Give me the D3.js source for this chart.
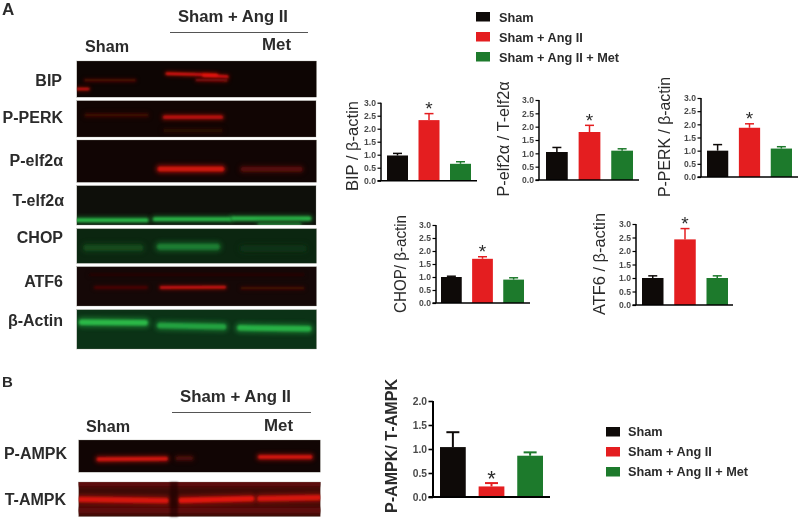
<!DOCTYPE html>
<html><head><meta charset="utf-8">
<script src="https://cdn.jsdelivr.net/npm/d3@7/dist/d3.min.js"></script>
<style>html,body{margin:0;padding:0;background:#fff}svg{display:block;filter:blur(.4px)}text{font-family:"Liberation Sans",Arial,sans-serif}</style>
</head><body><script>
// ---------- data ----------
const categories = ["Sham", "Sham + Ang II", "Sham + Ang II + Met"];
const bipMeans   = [0.97, 2.33, 0.65], bipTops   = [1.05, 2.58, 0.73];
const elfMeans   = [1.05, 1.80, 1.10], elfTops   = [1.22, 2.05, 1.17];
const perkMeans  = [1.00, 1.87, 1.08], perkTops  = [1.23, 2.02, 1.15];
const chopMeans  = [1.00, 1.70, 0.90], chopTops  = [1.03, 1.78, 0.97];
const atfMeans   = [1.00, 2.43, 1.00], atfTops   = [1.08, 2.83, 1.08];
const ampkMeans  = [1.04, 0.22, 0.86], ampkTops  = [1.35, 0.29, 0.93];
const ticks30 = [0, 0.5, 1, 1.5, 2, 2.5, 3];
const ticks20 = [0, 0.5, 1, 1.5, 2];
const blotLabels = ["BIP","P-PERK","P-elf2α","T-elf2α","CHOP","ATF6","β-Actin","P-AMPK","T-AMPK"];
// densitometry bands in gel units: x0, y0, x1, y1, relative intensity
const bipBands  = [[25,58,175,58,.3],[2,84,35,84,.9],[270,38,420,42,1],[380,44,452,47,1],[360,57,450,58,.55]];
const perkBands = [[30,44,210,44,.2],[265,50,435,50,.8],[265,90,435,90,.1]];
const pElfBands = [[250,87,435,87,.85],[500,88,670,88,.3]];
const tElfBands = [[2,104,210,104,.85],[235,101,460,101,.85],[470,99,700,99,.85],[550,117,670,117,.5]];
const chopBands = [[30,58,190,58,.2],[250,55,420,55,.5],[500,60,680,60,.07]];
const atfBands  = [[55,63,210,63,.3],[252,63,445,62,1],[495,65,680,65,.25],[40,25,680,25,.08]];
const actBands  = [[15,38,205,40,.85],[250,48,440,52,.7],[490,55,695,58,.8]];
const pAmpkBands= [[60,58,260,56,.85],[295,55,335,55,.25],[540,51,690,51,.85]];
const tAmpkBands= [[0,5,720,5,.2],[0,85,720,85,.2],[5,52,260,56,.85],[305,55,515,50,.9],[540,50,715,47,.85]];

// ---------- layout ----------
const W = 800, H = 519;
const ink = "#2b2b2b", tickInk = "#4a4a4a";
const barColors = ["#0e0a08", "#e41e20", "#1d7a2c"];
const svg = d3.select("body").append("svg").attr("width", W).attr("height", H).attr("viewBox", `0 0 ${W} ${H}`);
const defs = svg.append("defs");
[["b1",1],["b2",2.2]].forEach(([id,s]) => defs.append("filter").attr("id",id)
  .attr("filterUnits","userSpaceOnUse").attr("x",0).attr("y",0).attr("width",W).attr("height",H)
  .append("feGaussianBlur").attr("stdDeviation",s));
const txt = (t,x,y,size,opt={}) => svg.append("text").attr("x",x).attr("y",y)
  .attr("font-size",size).attr("font-weight",opt.weight||"bold").attr("fill",opt.fill||ink)
  .attr("text-anchor",opt.anchor||"start").attr("textLength",opt.len||null)
  .attr("lengthAdjust","spacingAndGlyphs").text(t);

// ---------- blots ----------
const RED="#f2180f", GRN="#2fd050";
const blotLayout = [
 {b:bipBands,  x0:76.7,x1:316.7,y0:61,   y1:97.3, bg:"#0d0503",hi:RED,w:[2.2]},
 {b:perkBands, x0:76.7,x1:316,  y0:100.5,y1:137,  bg:"#110503",hi:RED,w:[3.4]},
 {b:pElfBands, x0:76.7,x1:316.7,y0:140,  y1:182.5,bg:"#110504",hi:RED,w:[5]},
 {b:tElfBands, x0:76.7,x1:316,  y0:185.5,y1:225,  bg:"#0e0f0a",hi:GRN,w:[3.8]},
 {b:chopBands, x0:76.7,x1:316.7,y0:228.5,y1:263.5,bg:"#0b2610",hi:GRN,w:[6]},
 {b:atfBands,  x0:76.7,x1:316.7,y0:266.5,y1:306,  bg:"#150807",hi:RED,w:[2]},
 {b:actBands,  x0:76.7,x1:316.7,y0:309.5,y1:349,  bg:"#0b3216",hi:GRN,w:[5.5]},
 {b:pAmpkBands,x0:78.5,x1:320.5,y0:440,  y1:472.3,bg:"#110504",hi:RED,w:[4]},
 {b:tAmpkBands,x0:78.5,x1:320.5,y0:482,  y1:516.7,bg:"#3a0c08",hi:RED,w:[5.2]}
];
blotLayout.forEach((p,i) => {
  const g = svg.append("g");
  defs.append("clipPath").attr("id","c"+i).append("rect")
    .attr("x",p.x0).attr("y",p.y0).attr("width",p.x1-p.x0).attr("height",p.y1-p.y0);
  g.attr("clip-path",`url(#c${i})`);
  g.append("rect").attr("x",p.x0).attr("y",p.y0).attr("width",p.x1-p.x0).attr("height",p.y1-p.y0).attr("fill",p.bg);
  const sx = d3.scaleLinear().domain([0,720]).range([p.x0,p.x1]);
  const sy = d3.scaleLinear().domain([0,(p.y1-p.y0)*3]).range([p.y0,p.y1]);
  const line = d3.line().x(d=>sx(d[0])).y(d=>sy(d[1]));
  const col = v => d3.interpolateRgb(p.bg,p.hi)(v);
  p.b.forEach(b => {
    const pts = [[b[0],b[1]],[b[2],b[3]]];
    const path = () => g.append("path").attr("d",line(pts)).attr("fill","none").attr("stroke-linecap","round");
    path().attr("stroke",col(b[4])).attr("stroke-width",p.w[0]*2).attr("opacity",.4).attr("filter","url(#b2)");
    path().attr("stroke",col(b[4])).attr("stroke-width",p.w[0]).attr("filter","url(#b1)");
  });
  svg.append("rect").attr("x",p.x0).attr("y",p.y0).attr("width",p.x1-p.x0).attr("height",p.y1-p.y0)
    .attr("fill","none").attr("stroke","#8a8a80").attr("stroke-width",.5).attr("opacity",.6);
});
// dark seam in T-AMPK
svg.append("rect").attr("x",170).attr("y",482).attr("width",8).attr("height",34.7).attr("fill","#1a0504").attr("opacity",.6).attr("filter","url(#b1)");

// blot labels
const blotLabelPos = [[62,86],[63,123],[63,166],[64,206],[63,243],[63,287],[63,326],[67,459],[66,505]];
blotLabels.forEach((t,i)=>txt(t,blotLabelPos[i][0],blotLabelPos[i][1],16,{anchor:"end"}));

// panel headings
txt("A",2,15,17); txt("B",2,387,15);
txt("Sham + Ang II",178,22,16.5,{len:110}); txt("Sham + Ang II",180,402,16.5,{len:111});
txt("Sham",85,52,16.5,{len:44}); txt("Met",262,50,16.5,{len:29});
txt("Sham",86,432,16.5,{len:44}); txt("Met",264,431,16.5,{len:29});
[[170,308,32.5],[172,311,412.5]].forEach(l=>svg.append("line").attr("x1",l[0]).attr("x2",l[1]).attr("y1",l[2]).attr("y2",l[2]).attr("stroke","#555").attr("stroke-width",1));

// ---------- legends ----------
function legend(x,tx,ys,bases){
  categories.forEach((c,i)=>{
    svg.append("rect").attr("x",x).attr("y",ys[i]).attr("width",14).attr("height",9.5).attr("fill",barColors[i]);
    txt(c,tx,bases[i],12.7);
  });
}
legend(476,499,[12,32,52],[21.7,41.7,62]);
legend(606,628,[427,447,467],[435.5,455.5,475.5]);

// ---------- bar charts ----------
function chart(o){
  const g = svg.append("g");
  const y = d3.scaleLinear().domain([0,o.max]).range([o.y0,o.y1]);
  const x = d3.scaleBand().domain(categories).range([o.b0,o.b1]).paddingInner(1/3);
  const axis = d3.axisLeft(y).tickValues(o.ticks).tickFormat(d3.format(".1f")).tickSize(o.tick).tickPadding(1.5);
  const ag = g.append("g").attr("transform",`translate(${o.ax},0)`).call(axis);
  ag.select(".domain").attr("stroke","#000").attr("stroke-width",o.sw).attr("d",`M0,${o.y0}V${o.y1}`);
  ag.selectAll(".tick line").attr("stroke","#000").attr("stroke-width",o.sw*.8);
  ag.selectAll(".tick text").attr("font-size",o.fs).attr("font-weight","bold").attr("fill",tickInk)
    .attr("font-family",'"Liberation Sans",Arial,sans-serif');
  categories.forEach((c,i)=>{
    const cx = x(c)+x.bandwidth()/2;
    g.append("line").attr("x1",cx).attr("x2",cx).attr("y1",y(o.means[i])).attr("y2",y(o.tops[i])).attr("stroke",barColors[i]).attr("stroke-width",o.sw);
    g.append("line").attr("x1",cx-o.cap).attr("x2",cx+o.cap).attr("y1",y(o.tops[i])).attr("y2",y(o.tops[i])).attr("stroke",barColors[i]).attr("stroke-width",o.sw);
    g.append("rect").attr("x",x(c)).attr("width",x.bandwidth()).attr("y",y(o.means[i])).attr("height",y(0)-y(o.means[i])).attr("fill",barColors[i]);
  });
  g.append("line").attr("x1",o.ax-o.tick).attr("x2",o.end).attr("y1",o.y0).attr("y2",o.y0).attr("stroke","#000").attr("stroke-width",o.sw);
  const rx = x(categories[o.star])+x.bandwidth()/2;
  g.append("text").attr("x",rx).attr("y",y(o.tops[o.star])+o.starDy).attr("text-anchor","middle")
    .attr("font-size",o.starSize).attr("fill",ink).text("*");
  g.append("text").attr("transform",`translate(${o.tx},${o.ty}) rotate(-90)`).attr("text-anchor","middle")
    .attr("font-size",o.tfs).attr("font-weight",o.tw||"normal").attr("fill",ink)
    .attr("textLength",o.tlen).attr("lengthAdjust","spacingAndGlyphs").text(o.title);
}
const smallBase = {max:3,ticks:ticks30,tick:3.5,sw:1.5,fs:8.6,cap:4.5,star:1,starSize:19,starDy:1.5,tfs:16};
chart({...smallBase,means:bipMeans, tops:bipTops, ax:381,y0:180.7,y1:102.7,b0:387,b1:471,end:477,title:"BIP / β-actin",tx:358,ty:146,tlen:90});
chart({...smallBase,means:elfMeans, tops:elfTops, ax:539,y0:180,  y1:100,  b0:546,b1:633,end:639,title:"P-elf2α / T-elf2α",tx:509,ty:139,tlen:115});
chart({...smallBase,means:perkMeans,tops:perkTops,ax:701,y0:177,  y1:98,   b0:707,b1:792,end:798,title:"P-PERK / β-actin",tx:670,ty:137,tlen:120});
chart({...smallBase,means:chopMeans,tops:chopTops,ax:436,y0:303,  y1:225,  b0:441,b1:524,end:530,title:"CHOP/ β-actin",tx:406,ty:264,tlen:98});
chart({...smallBase,means:atfMeans, tops:atfTops, ax:636,y0:305,  y1:224,  b0:642,b1:728,end:733,title:"ATF6 / β-actin",tx:605,ty:264,tlen:102});
chart({max:2,ticks:ticks20,tick:4.5,sw:2,fs:10.3,cap:6.5,star:1,starSize:22,starDy:2.5,tfs:16,tw:"bold",
  means:ampkMeans,tops:ampkTops,ax:433,y0:497,y1:401,b0:440,b1:543,end:550,title:"P-AMPK/ T-AMPK",tx:397,ty:446,tlen:134});
</script></body></html>
